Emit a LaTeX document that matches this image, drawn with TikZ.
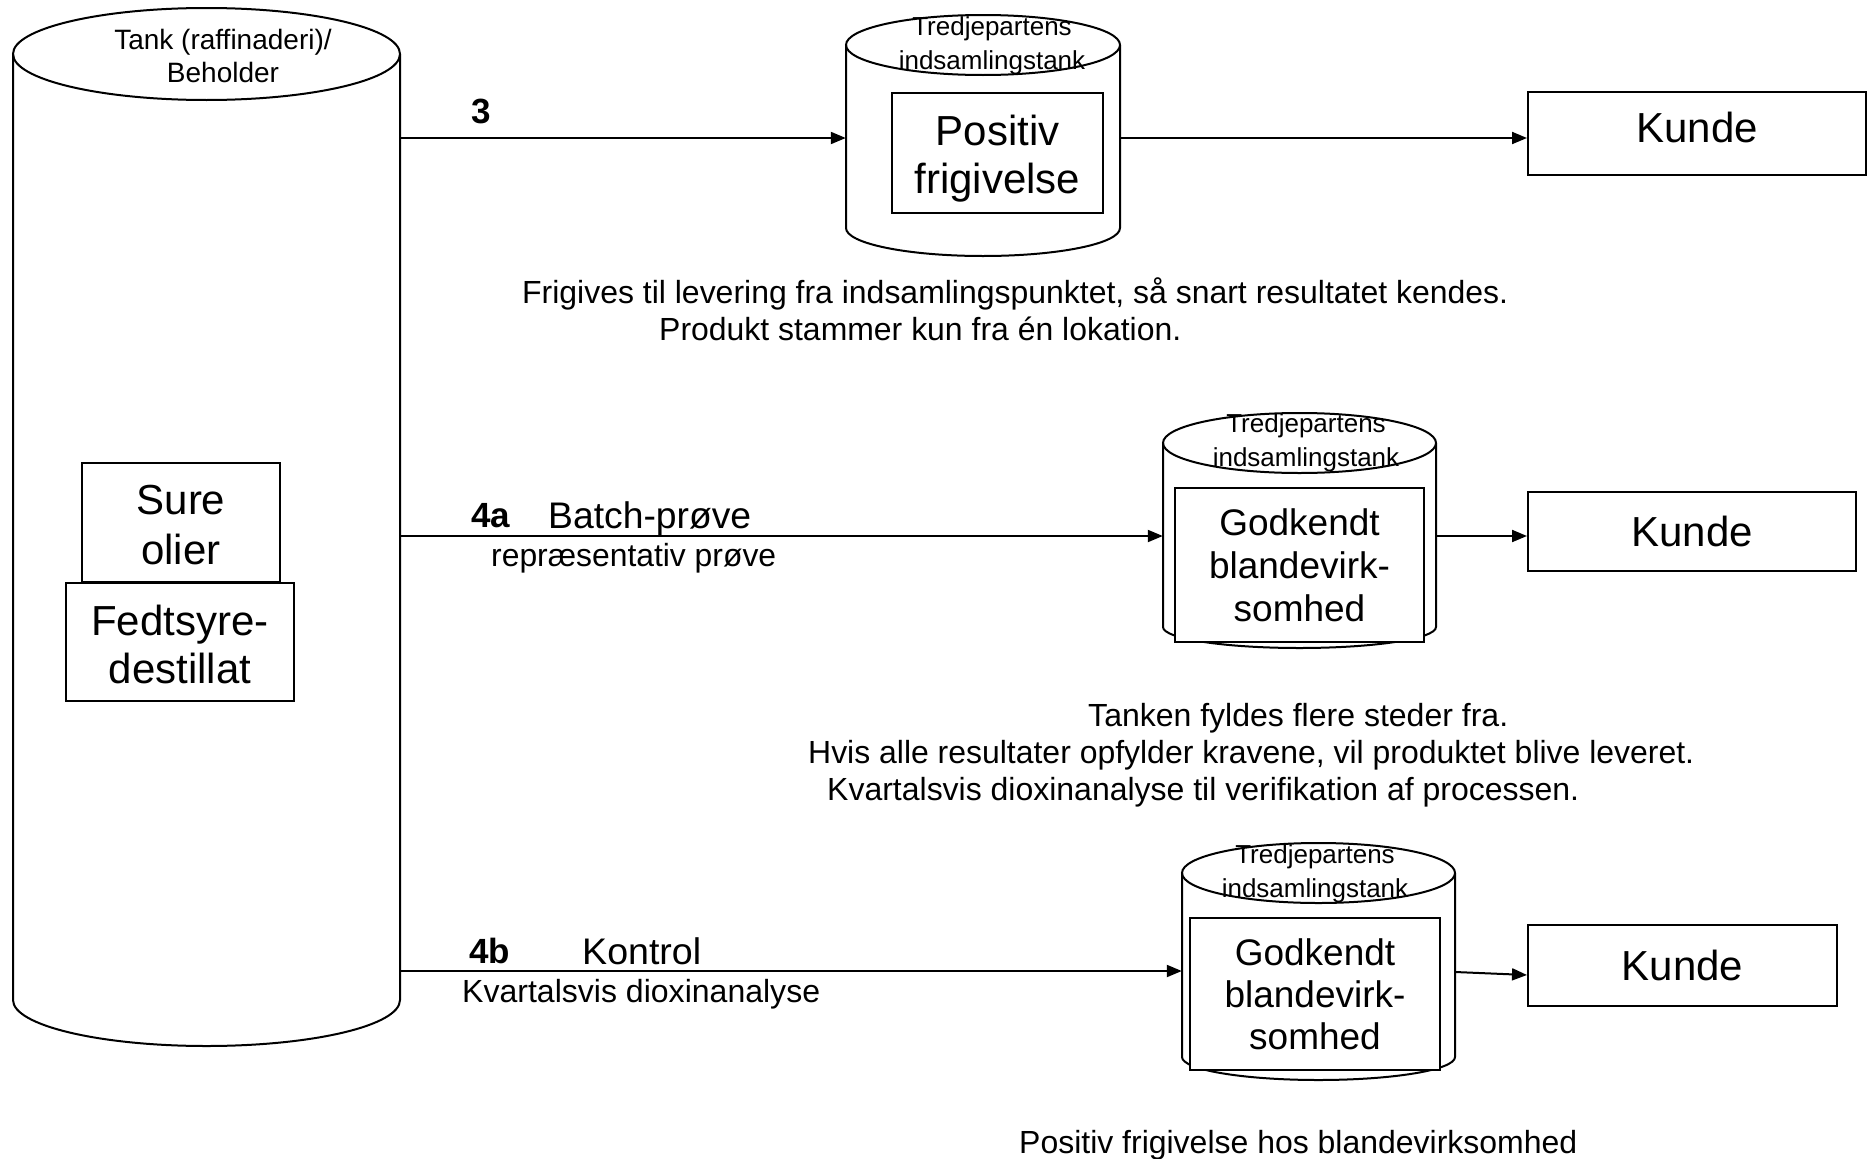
\documentclass[tikz,border=0pt]{standalone}
\usepackage{fontspec}
\setmainfont{Liberation Sans}
\usepackage{graphicx}
\usetikzlibrary{arrows.meta}
\newcommand\fitw[2]{\resizebox{#1}{\height}{#2}}
\newcommand\myfs[2]{\fontsize{#1}{#2}\selectfont}
% name, cx, ytop, ybottom, rx, ry top, ry bottom
\newcommand\mycyl[7]{%
  \draw[lw] ({#2-#5},{#3}) -- ({#2-#5},{#4})
    .. controls ({#2-#5},{#4+0.5523*#7}) and ({#2-0.5523*#5},{#4+#7}) .. ({#2},{#4+#7})
    .. controls ({#2+0.5523*#5},{#4+#7}) and ({#2+#5},{#4+0.5523*#7}) .. ({#2+#5},{#4})
    -- ({#2+#5},{#3});
  \draw[lw] ({#2},{#3}) ellipse [x radius=#5, y radius=#6];
  \node[inner sep=0pt, minimum width={2*#5}, minimum height={#4-#3}] (#1) at ({#2},{(#3+#4)/2}) {};
}
\tikzset{
  lw/.style={line width=2pt},
  arr/.style={line width=2pt, -{Triangle[length=15pt,width=12pt]}},
  box/.style={draw, line width=2pt, fill=white, inner sep=0pt, align=center},
  btxt/.style={inner sep=0pt, align=center},
  lbl/.style={inner sep=0pt, anchor=west, text depth=0pt},
  small/.style={font=\myfs{32}{37}, text height=23pt},
  mid/.style={font=\myfs{37}{43}, text height=27pt},
  num/.style={font=\myfs{35}{40}\bfseries, text height=25pt},
  tlab/.style={align=center, inner sep=0pt, font=\myfs{26}{34}}
}
\begin{document}
\begin{tikzpicture}[x=1pt,y=-1pt]
\useasboundingbox (0,0) rectangle (1869,1159);
\fill[white] (0,0) rectangle (1869,1159);

% big tank
\mycyl{tank0}{206.5}{54}{1000}{193.5}{46}{46}
\node[align=center, inner sep=0pt, font=\myfs{28}{33}] (t0label) at (223,56) {Tank (raffinaderi)/\\Beholder};
\node[box, minimum width=198pt, minimum height=119pt] (sure) at (181,522.5) {};
\node[btxt, font=\myfs{42}{50}] (suretxt) at ([yshift=-2.5pt]sure.center) {Sure\\olier};
\node[box, minimum width=228pt, minimum height=118pt] (fedt) at (180,642) {};
\node[btxt, font=\myfs{42}{48}] (fedttxt) at ([yshift=-2.5pt]fedt.center) {Fedtsyre-\\destillat};

% tank 3
\mycyl{tank3}{983}{45}{228}{137}{30}{28}
\node[tlab] (t3label) at (992,45.5) {Tredjepartens\\indsamlingstank};
\node[box, minimum width=211pt, minimum height=120pt] (pos) at (997.5,153) {};
\node[btxt, font=\myfs{42}{48}] (postxt) at ([yshift=-6pt]pos.center) {Positiv\\frigivelse};

% tank 4a
\mycyl{tank4a}{1299.5}{443}{627}{136.5}{30}{21}
\node[tlab] (t4alabel) at (1306,442.5) {Tredjepartens\\indsamlingstank};
\node[box, minimum width=249pt, minimum height=154pt, font=\myfs{37}{43}] (god4a) at (1299.5,565) {Godkendt\\blandevirk-\\somhed};

% tank 4b
\mycyl{tank4b}{1318.5}{873}{1057}{136.5}{30}{23}
\node[tlab] (t4blabel) at (1315,873.5) {Tredjepartens\\indsamlingstank};
\node[box, minimum width=250pt, minimum height=152pt, font=\myfs{37}{42}] (god4b) at (1315,994) {Godkendt\\blandevirk-\\somhed};

% customers
\node[box, minimum width=338pt, minimum height=83pt] (kunde1) at (1697,133.5) {};
\node[btxt, font=\myfs{42}{48}] (kunde1txt) at ([yshift=6pt]kunde1.center) {Kunde};
\node[box, minimum width=328pt, minimum height=79pt, font=\myfs{42}{48}] (kunde2) at (1692,531.5) {Kunde};
\node[box, minimum width=309pt, minimum height=81pt, font=\myfs{42}{48}] (kunde3) at (1682.5,965.5) {Kunde};

% connectors
\draw[arr] (tank0.east |- 0,138) -- (tank3.west |- 0,138);
\draw[arr] (tank3.east |- 0,138) -- (kunde1.west |- 0,138);
\draw[arr] (tank0.east |- 0,536) -- (tank4a.west |- 0,536);
\draw[arr] (tank4a.east |- 0,536) -- (kunde2.west |- 0,536);
\draw[arr] (tank0.east |- 0,971) -- (tank4b.west |- 0,971);
\draw[arr] (tank4b.east |- 0,972) -- (kunde3.west |- 0,975);

% connector labels
\node[lbl, num] (n3) at (471,111) {3};
\node[lbl, num] (n4a) at (471,515) {4a};
\node[lbl, mid] (batch) at (548,515) {\fitw{203pt}{Batch-prøve}};
\node[lbl, small] (rep) at (491,555) {\fitw{285pt}{repræsentativ prøve}};
\node[lbl, num] (n4b) at (469,951) {4b};
\node[lbl, mid] (kontrol) at (582,951) {\fitw{119pt}{Kontrol}};
\node[lbl, small] (kvart) at (462,991) {\fitw{358pt}{Kvartalsvis dioxinanalyse}};

% captions
\node[lbl, small] (c1a) at (522,292) {\fitw{986pt}{Frigives til levering fra indsamlingspunktet, så snart resultatet kendes.}};
\node[lbl, small] (c1b) at (659,329) {\fitw{522pt}{Produkt stammer kun fra én lokation.}};
\node[lbl, small] (c2a) at (1088,715) {\fitw{420pt}{Tanken fyldes flere steder fra.}};
\node[lbl, small] (c2b) at (808,752) {\fitw{886pt}{Hvis alle resultater opfylder kravene, vil produktet blive leveret.}};
\node[lbl, small] (c2c) at (827,789) {\fitw{752pt}{Kvartalsvis dioxinanalyse til verifikation af processen.}};
\node[lbl, small] (c3) at (1019,1142) {\fitw{558pt}{Positiv frigivelse hos blandevirksomhed}};
\end{tikzpicture}
\end{document}
